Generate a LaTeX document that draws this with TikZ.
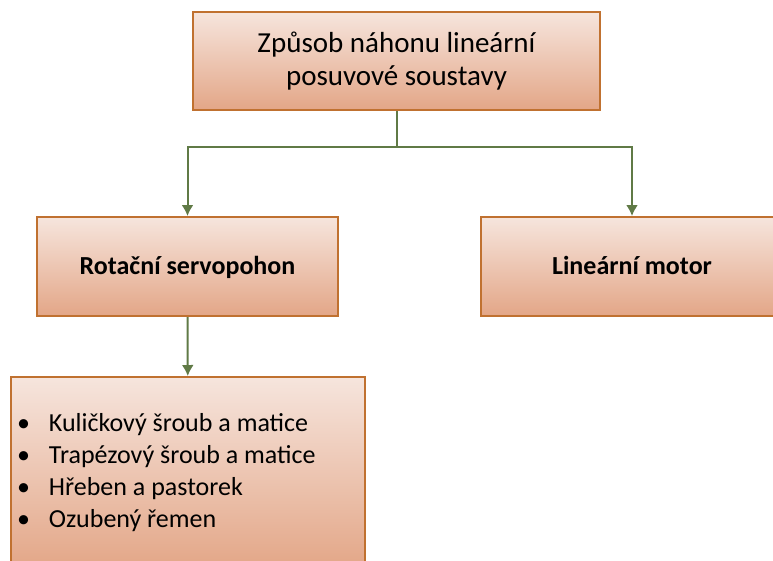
\documentclass[tikz,border=0pt]{standalone}
\usepackage{fontspec}
\setmainfont{Carlito}
\usetikzlibrary{arrows.meta,positioning,calc}
\definecolor{boxline}{RGB}{192,113,48}
\definecolor{boxtop}{RGB}{246,229,221}
\definecolor{boxbottom}{RGB}{227,166,135}
\definecolor{linkline}{RGB}{96,122,70}
\tikzstyle{block} = [draw=boxline, line width=2pt, shape=rectangle, top color=boxtop, bottom color=boxbottom, inner sep=0pt]
\tikzstyle{Link} = [line width=2pt, draw=linkline]
\tikzstyle{Arrow} = [Link, -{Latex[length=11pt,width=12pt]}]

\begin{document}
\begin{tikzpicture}[x=1pt,y=-1pt]
            \useasboundingbox (0,0) rectangle (773,560);
            %%%%% Top block %%%%%
            \node (T) [block, minimum width=407pt, minimum height=98pt, align=center, font=\fontsize{29}{33}\selectfont] at (396.5,61) {Způsob náhonu lineární\\posuvové soustavy};
            %%%%% Second level %%%%%
            \node (R) [block, minimum width=301pt, minimum height=99pt, text height=19pt, text depth=4pt, font=\fontsize{26}{30}\selectfont\bfseries] at (187.5,266.5) {Rotační servopohon};
            \node (L) [block, minimum width=302pt, minimum height=99pt, text height=19pt, text depth=4pt, font=\fontsize{26}{30}\selectfont\bfseries] at (632,266.5) {Lineární motor};
            %%%%% Bottom block %%%%%
            \node (S) [block, minimum width=354pt, minimum height=192pt, font=\fontsize{26}{32.3}\selectfont] at (188,473) {%
              \makebox[342pt][l]{\begin{tabular}{@{}l@{\hspace{19pt}}l@{}}
              \textbullet & Kuličkový šroub a matice\\
              \textbullet & Trapézový šroub a matice\\
              \textbullet & Hřeben a pastorek\\
              \textbullet & Ozubený řemen
              \end{tabular}}};
            %%%%% Edges %%%%%
            \coordinate (J) at (396.5,147);
            \draw [Link] (T) -- (J);
            \draw [Arrow] (J) -| (R);
            \draw [Arrow] (J) -| (L);
            \draw [Arrow] (R) -- (S);
\end{tikzpicture}
\end{document}
